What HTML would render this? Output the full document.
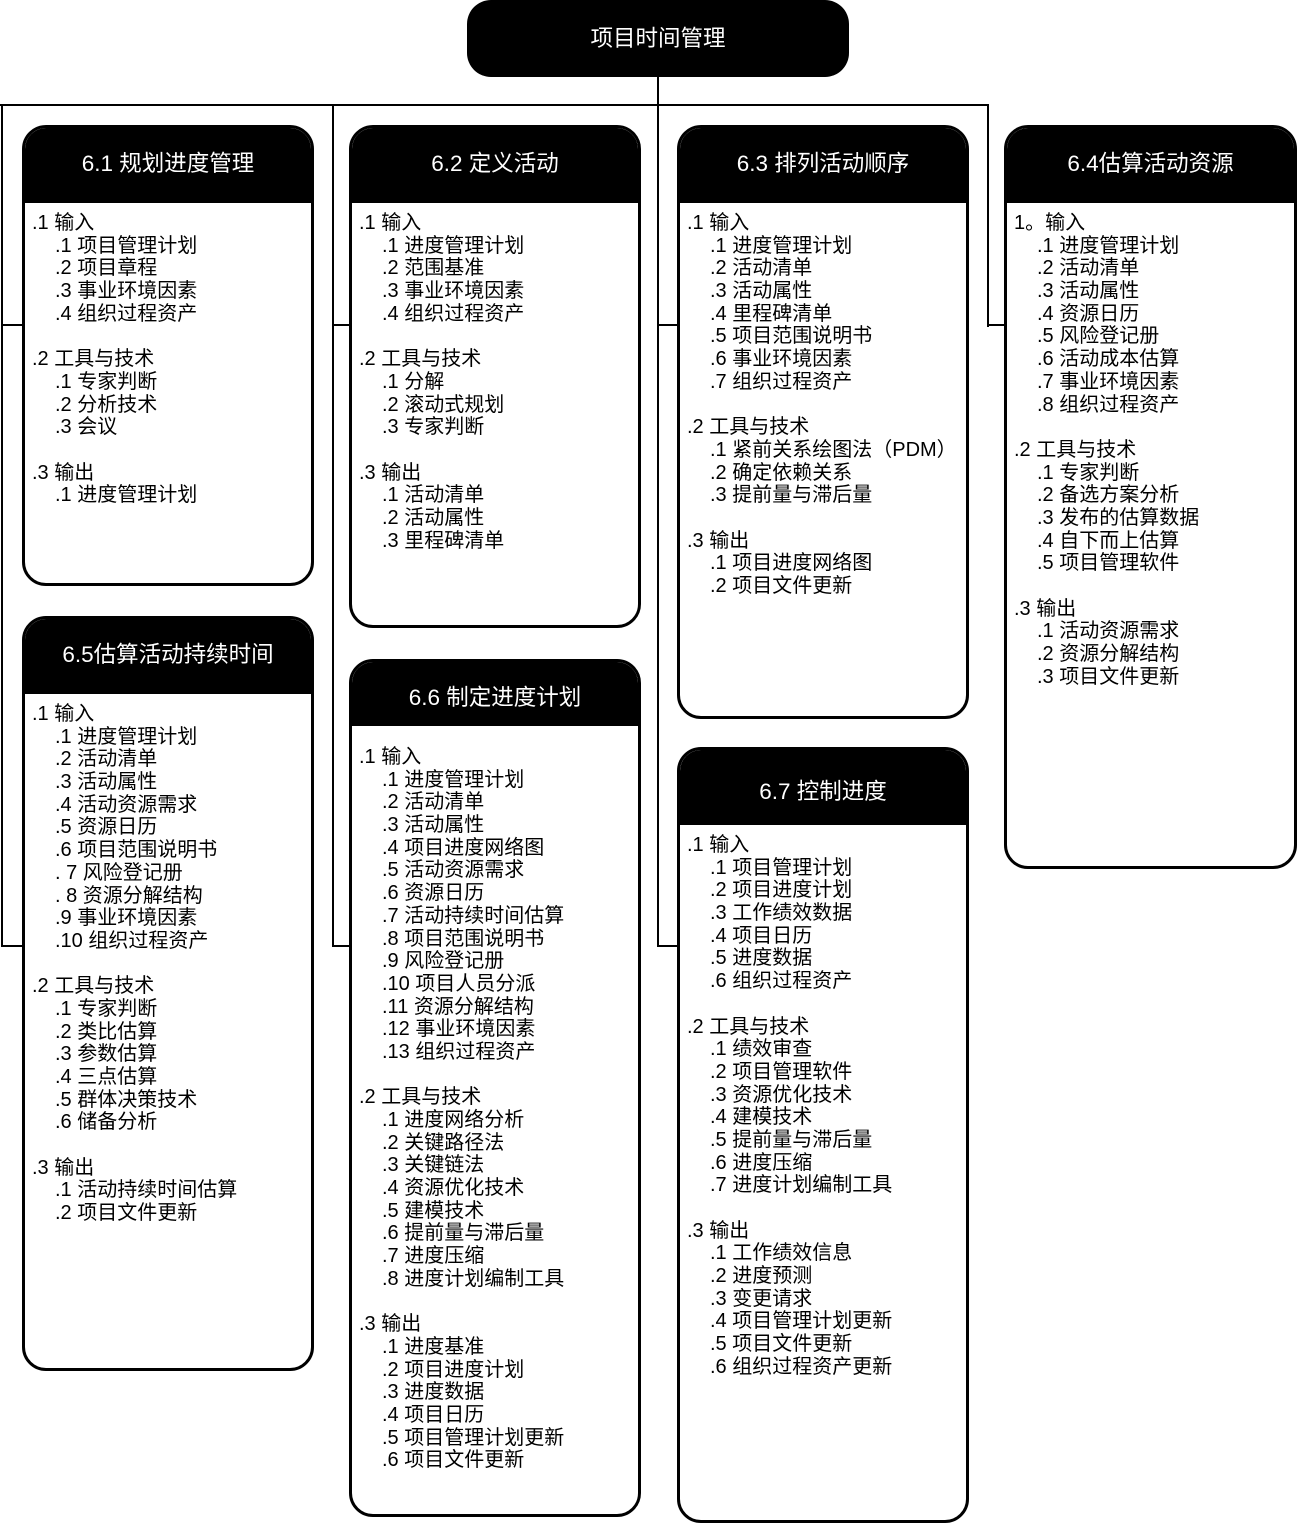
<!DOCTYPE html>
<html><head><meta charset="utf-8">
<style>
body{margin:0;width:1297px;height:1524px;background:#fff;position:relative;overflow:hidden;font-family:"Liberation Sans","Noto Sans CJK SC",sans-serif;}
.l{position:absolute;background:#000;}
.box{position:absolute;border:3px solid #000;border-radius:24px;box-sizing:border-box;overflow:hidden;background:#fff;}
.hd{background:#000;color:#fff;font-size:22.5px;text-align:center;box-sizing:border-box;}
.bd{font-size:20px;line-height:22.7px;color:#000;white-space:pre;padding-left:7px;}
.bd div{height:22.7px;}
.bd .s{padding-left:23px;}
.root{position:absolute;left:467px;top:0;width:382px;height:77px;background:#000;border-radius:24px;color:#fff;font-size:22.5px;text-align:center;line-height:77px;}
</style></head><body>
<div class="root">项目时间管理</div>
<div class="l" style="left:657px;top:76px;width:2px;height:30px"></div>
<div class="l" style="left:0;top:104px;width:989px;height:2px"></div>
<div class="l" style="left:1px;top:104px;width:2px;height:843px"></div>
<div class="l" style="left:332px;top:104px;width:2px;height:843px"></div>
<div class="l" style="left:657px;top:104px;width:2px;height:843px"></div>
<div class="l" style="left:987px;top:104px;width:2px;height:223px"></div>
<div class="l" style="left:1px;top:324px;width:23px;height:2px"></div>
<div class="l" style="left:332px;top:324px;width:20px;height:2px"></div>
<div class="l" style="left:657px;top:324px;width:23px;height:2px"></div>
<div class="l" style="left:987px;top:324px;width:20px;height:2px"></div>
<div class="l" style="left:1px;top:945px;width:23px;height:2px"></div>
<div class="l" style="left:332px;top:945px;width:20px;height:2px"></div>
<div class="l" style="left:657px;top:945px;width:23px;height:2px"></div>

<div class="box" style="left:22px;top:125px;width:292px;height:461px">
<div class="hd" style="height:75px;line-height:72px">6.1 规划进度管理</div>
<div class="bd" style="padding-top:9px"><div>.1 输入</div><div class="s">.1 项目管理计划</div><div class="s">.2 项目章程</div><div class="s">.3 事业环境因素</div><div class="s">.4 组织过程资产</div><div></div><div>.2 工具与技术</div><div class="s">.1 专家判断</div><div class="s">.2 分析技术</div><div class="s">.3 会议</div><div></div><div>.3 输出</div><div class="s">.1 进度管理计划</div></div>
</div>

<div class="box" style="left:349px;top:125px;width:292px;height:503px">
<div class="hd" style="height:75px;line-height:72px">6.2 定义活动</div>
<div class="bd" style="padding-top:9px"><div>.1 输入</div><div class="s">.1 进度管理计划</div><div class="s">.2 范围基准</div><div class="s">.3 事业环境因素</div><div class="s">.4 组织过程资产</div><div></div><div>.2 工具与技术</div><div class="s">.1 分解</div><div class="s">.2 滚动式规划</div><div class="s">.3 专家判断</div><div></div><div>.3 输出</div><div class="s">.1 活动清单</div><div class="s">.2 活动属性</div><div class="s">.3 里程碑清单</div></div>
</div>

<div class="box" style="left:677px;top:125px;width:292px;height:594px">
<div class="hd" style="height:75px;line-height:72px">6.3 排列活动顺序</div>
<div class="bd" style="padding-top:9px"><div>.1 输入</div><div class="s">.1 进度管理计划</div><div class="s">.2 活动清单</div><div class="s">.3 活动属性</div><div class="s">.4 里程碑清单</div><div class="s">.5 项目范围说明书</div><div class="s">.6 事业环境因素</div><div class="s">.7 组织过程资产</div><div></div><div>.2 工具与技术</div><div class="s">.1 紧前关系绘图法（PDM）</div><div class="s">.2 确定依赖关系</div><div class="s">.3 提前量与滞后量</div><div></div><div>.3 输出</div><div class="s">.1 项目进度网络图</div><div class="s">.2 项目文件更新</div></div>
</div>

<div class="box" style="left:1004px;top:125px;width:293px;height:744px">
<div class="hd" style="height:75px;line-height:72px">6.4估算活动资源</div>
<div class="bd" style="padding-top:9px"><div>1。输入</div><div class="s">.1 进度管理计划</div><div class="s">.2 活动清单</div><div class="s">.3 活动属性</div><div class="s">.4 资源日历</div><div class="s">.5 风险登记册</div><div class="s">.6 活动成本估算</div><div class="s">.7 事业环境因素</div><div class="s">.8 组织过程资产</div><div></div><div>.2 工具与技术</div><div class="s">.1 专家判断</div><div class="s">.2 备选方案分析</div><div class="s">.3 发布的估算数据</div><div class="s">.4 自下而上估算</div><div class="s">.5 项目管理软件</div><div></div><div>.3 输出</div><div class="s">.1 活动资源需求</div><div class="s">.2 资源分解结构</div><div class="s">.3 项目文件更新</div></div>
</div>

<div class="box" style="left:22px;top:616px;width:292px;height:755px">
<div class="hd" style="height:75px;line-height:72px">6.5估算活动持续时间</div>
<div class="bd" style="padding-top:9px"><div>.1 输入</div><div class="s">.1 进度管理计划</div><div class="s">.2 活动清单</div><div class="s">.3 活动属性</div><div class="s">.4 活动资源需求</div><div class="s">.5 资源日历</div><div class="s">.6 项目范围说明书</div><div class="s">. 7 风险登记册</div><div class="s">. 8 资源分解结构</div><div class="s">.9 事业环境因素</div><div class="s">.10 组织过程资产</div><div></div><div>.2 工具与技术</div><div class="s">.1 专家判断</div><div class="s">.2 类比估算</div><div class="s">.3 参数估算</div><div class="s">.4 三点估算</div><div class="s">.5 群体决策技术</div><div class="s">.6 储备分析</div><div></div><div>.3 输出</div><div class="s">.1 活动持续时间估算</div><div class="s">.2 项目文件更新</div></div>
</div>

<div class="box" style="left:349px;top:659px;width:292px;height:858px">
<div class="hd" style="height:64px;line-height:72px">6.6 制定进度计划</div>
<div class="bd" style="padding-top:20px"><div>.1 输入</div><div class="s">.1 进度管理计划</div><div class="s">.2 活动清单</div><div class="s">.3 活动属性</div><div class="s">.4 项目进度网络图</div><div class="s">.5 活动资源需求</div><div class="s">.6 资源日历</div><div class="s">.7 活动持续时间估算</div><div class="s">.8 项目范围说明书</div><div class="s">.9 风险登记册</div><div class="s">.10 项目人员分派</div><div class="s">.11 资源分解结构</div><div class="s">.12 事业环境因素</div><div class="s">.13 组织过程资产</div><div></div><div>.2 工具与技术</div><div class="s">.1 进度网络分析</div><div class="s">.2 关键路径法</div><div class="s">.3 关键链法</div><div class="s">.4 资源优化技术</div><div class="s">.5 建模技术</div><div class="s">.6 提前量与滞后量</div><div class="s">.7 进度压缩</div><div class="s">.8 进度计划编制工具</div><div></div><div>.3 输出</div><div class="s">.1 进度基准</div><div class="s">.2 项目进度计划</div><div class="s">.3 进度数据</div><div class="s">.4 项目日历</div><div class="s">.5 项目管理计划更新</div><div class="s">.6 项目文件更新</div></div>
</div>

<div class="box" style="left:677px;top:747px;width:292px;height:776px">
<div class="hd" style="height:75px;line-height:84px">6.7 控制进度</div>
<div class="bd" style="padding-top:9px"><div>.1 输入</div><div class="s">.1 项目管理计划</div><div class="s">.2 项目进度计划</div><div class="s">.3 工作绩效数据</div><div class="s">.4 项目日历</div><div class="s">.5 进度数据</div><div class="s">.6 组织过程资产</div><div></div><div>.2 工具与技术</div><div class="s">.1 绩效审查</div><div class="s">.2 项目管理软件</div><div class="s">.3 资源优化技术</div><div class="s">.4 建模技术</div><div class="s">.5 提前量与滞后量</div><div class="s">.6 进度压缩</div><div class="s">.7 进度计划编制工具</div><div></div><div>.3 输出</div><div class="s">.1 工作绩效信息</div><div class="s">.2 进度预测</div><div class="s">.3 变更请求</div><div class="s">.4 项目管理计划更新</div><div class="s">.5 项目文件更新</div><div class="s">.6 组织过程资产更新</div></div>
</div>
</body></html>
